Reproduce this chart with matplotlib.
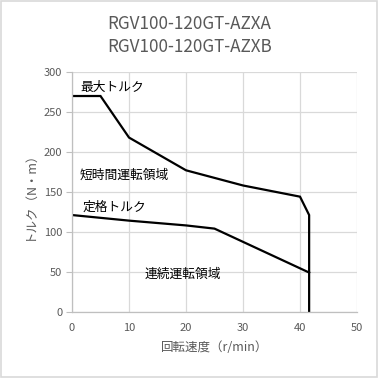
import matplotlib
matplotlib.use("Agg")
import matplotlib.pyplot as plt
from matplotlib.patches import Rectangle

plt.rcParams['font.family'] = ['Noto Sans CJK JP', 'DejaVu Sans']

title_lines = ["RGV100-120GT-AZXA", "RGV100-120GT-AZXB"]
max_speed = [0, 5, 10, 20, 30, 40, 41.6, 41.6]
max_torque = [270, 270, 218, 177, 158, 144, 121, 0]
rated_speed = [0, 10, 20, 25, 41.6]
rated_torque = [121, 114, 108, 104, 49]
xticks = [0, 10, 20, 30, 40, 50]
yticks = [0, 50, 100, 150, 200, 250, 300]
labels = [("最大トルク", 1.4, 281), ("短時間運転領域", 1.4, 171),
          ("定格トルク", 1.9, 131), ("連続運転領域", 12.8, 47)]

fig = plt.figure(figsize=(3.79, 3.78), dpi=100)
fig.patches.append(Rectangle((0.002, 0.003), 0.994, 0.994, transform=fig.transFigure,
                             fill=False, edgecolor='#d9d9d9', lw=1.2))
ax = fig.add_axes([0.19, 0.1754, 0.752, 0.634])

ax.plot(max_speed, max_torque, color='black', lw=1.6, solid_joinstyle='miter')
ax.plot(rated_speed, rated_torque, color='black', lw=1.6)

ax.set_xlim(0, 50)
ax.set_ylim(0, 300)
ax.set_xticks(xticks)
ax.set_yticks(yticks)
ax.grid(True, color='#d9d9d9', lw=0.9)
ax.set_axisbelow(True)
for s in ['top', 'right']:
    ax.spines[s].set_visible(False)
for s in ['left', 'bottom']:
    ax.spines[s].set_color('#bfbfbf')
    ax.spines[s].set_linewidth(0.9)
ax.tick_params(axis='x', length=0, colors='#595959', labelsize=8, pad=8)
ax.tick_params(axis='y', length=4, color='#bfbfbf', colors='#595959', labelsize=8, pad=3)

for t, x, y in labels:
    ax.text(x, y, t, fontsize=9.2, color='black', ha='left', va='center')

ax.set_xlabel("回転速度（r/min）", fontsize=9, color='#595959', labelpad=6)
ax.set_ylabel("トルク（N・m）", fontsize=9, color='#595959', labelpad=6)

fig.text(0.5, 0.937, title_lines[0], ha='center', va='center', fontsize=12.3, color='#595959')
fig.text(0.5, 0.876, title_lines[1], ha='center', va='center', fontsize=12.3, color='#595959')

fig.savefig("out.png", dpi=100)
